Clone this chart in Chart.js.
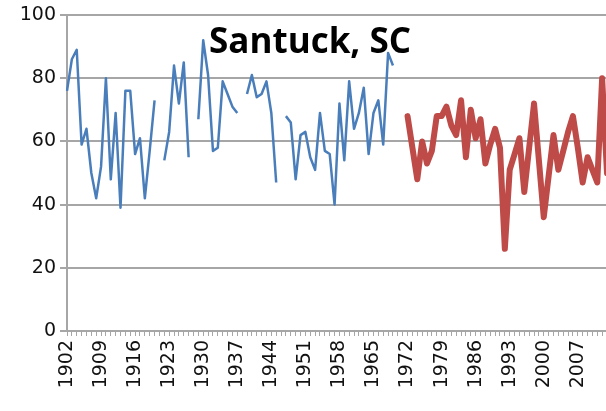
<!DOCTYPE html>
<html>
<head>
<meta charset="utf-8">
<script src="https://cdn.jsdelivr.net/npm/chart.js@4"></script>
<style>
  html, body { margin: 0; padding: 0; background: #fff; overflow: hidden; }
  #wrap { position: relative; width: 612px; height: 411px; }
</style>
</head>
<body>
<div id="wrap"><canvas id="chart"></canvas></div>
<script>
// Years 1902-2013
const years = [];
for (let y = 1902; y <= 2013; y++) years.push(String(y));

const titleText = "Santuck, SC";
const yTicks = [0, 20, 40, 60, 80, 100];

// Blue series: 1902-1969 (gaps = missing years)
const earlyValues = [
  76, 86, 89, 59, 64, 50, 42, 52, 80, 48, // 1902-1911
  69, 39, 76, 76, 56, 61, 42, 57, 73, null, // 1912-1921
  54, 63, 84, 72, 85, 55, null, 67, 92, 81, // 1922-1931
  57, 58, 79, 75, 71, 69, null, 75, 81, 74, // 1932-1941
  75, 79, 69, 47, null, 68, 66, 48, 62, 63, // 1942-1951
  55, 51, 69, 57, 56, 40, 72, 54, 79, 64, // 1952-1961
  69, 77, 56, 69, 73, 59, 88, 84, // 1962-1969
];

// Red series: 1972-2013
const lateValues = [
  68, 58, 48, 60, 53, 57, 68, 68, 71, 65, // 1972-1981
  62, 73, 55, 70, 61, 67, 53, 59, 64, 58, // 1982-1991
  26, 51, 56, 61, 44, 58, 72, 54, 36, 49, // 1992-2001
  62, 51, 57, 63, 68, 58, 47, 55, 51, 47, // 2002-2011
  80, 50, // 2012-2013
];

function padTo(values, startYear) {
  const out = Array(years.length).fill(null);
  values.forEach((v, i) => (out[startYear - 1902 + i] = v));
  return out;
}

// Title drawn over the plot area
const titlePlugin = {
  id: "overTitle",
  afterDraw(chart) {
    const ctx = chart.ctx;
    ctx.save();
    ctx.font = "bold 35px 'Open Sans'";
    ctx.fillStyle = "#000";
    ctx.textAlign = "center";
    ctx.textBaseline = "alphabetic";
    ctx.fillText(titleText, 310, 53);
    ctx.restore();
  },
};

const gridColor = "#a6a6a6";

new Chart(document.getElementById("chart"), {
  type: "line",
  data: {
    labels: years,
    datasets: [
      {
        data: padTo(earlyValues, 1902),
        borderColor: "#4a7ebb",
        borderWidth: 2.5,
        pointRadius: 0,
        tension: 0,
        spanGaps: false,
        borderJoinStyle: "round",
      },
      {
        data: padTo(lateValues, 1972),
        borderColor: "#be4b48",
        borderWidth: 6,
        pointRadius: 0,
        tension: 0,
        borderJoinStyle: "round",
        borderCapStyle: "round",
      },
    ],
  },
  options: {
    responsive: true,
    maintainAspectRatio: false,
    animation: false,
    layout: { padding: { top: 15, right: 5, bottom: 0, left: 0 } },
    plugins: {
      legend: { display: false },
      tooltip: { enabled: false },
    },
    scales: {
      x: {
        offset: false,
        grid: {
          drawOnChartArea: false,
          drawTicks: true,
          tickLength: 5,
          color: gridColor,
        },
        border: { color: gridColor, width: 2 },
        ticks: {
          autoSkip: false,
          minRotation: 90,
          maxRotation: 90,
          padding: 4,
          color: "#111",
          font: { family: "'DejaVu Sans'", size: 19 },
          callback: (val, i) => ((1902 + i - 1902) % 7 === 0 ? years[i] : ""),
        },
        afterFit: (s) => {
          s.height = 80;
          s.paddingLeft = 0;
          s.paddingRight = 0;
        },
      },
      y: {
        min: 0,
        max: 100,
        afterBuildTicks: (s) => {
          s.ticks = yTicks.map((v) => ({ value: v }));
        },
        grid: {
          color: gridColor,
          lineWidth: 2,
          tickLength: 7,
        },
        border: { color: gridColor, width: 2 },
        ticks: {
          padding: 4,
          color: "#111",
          font: { family: "'DejaVu Sans'", size: 19 },
        },
        afterFit: (s) => {
          s.width = 67;
          s.paddingTop = 0;
          s.paddingBottom = 0;
        },
      },
    },
  },
  plugins: [titlePlugin],
});
</script>
</body>
</html>
